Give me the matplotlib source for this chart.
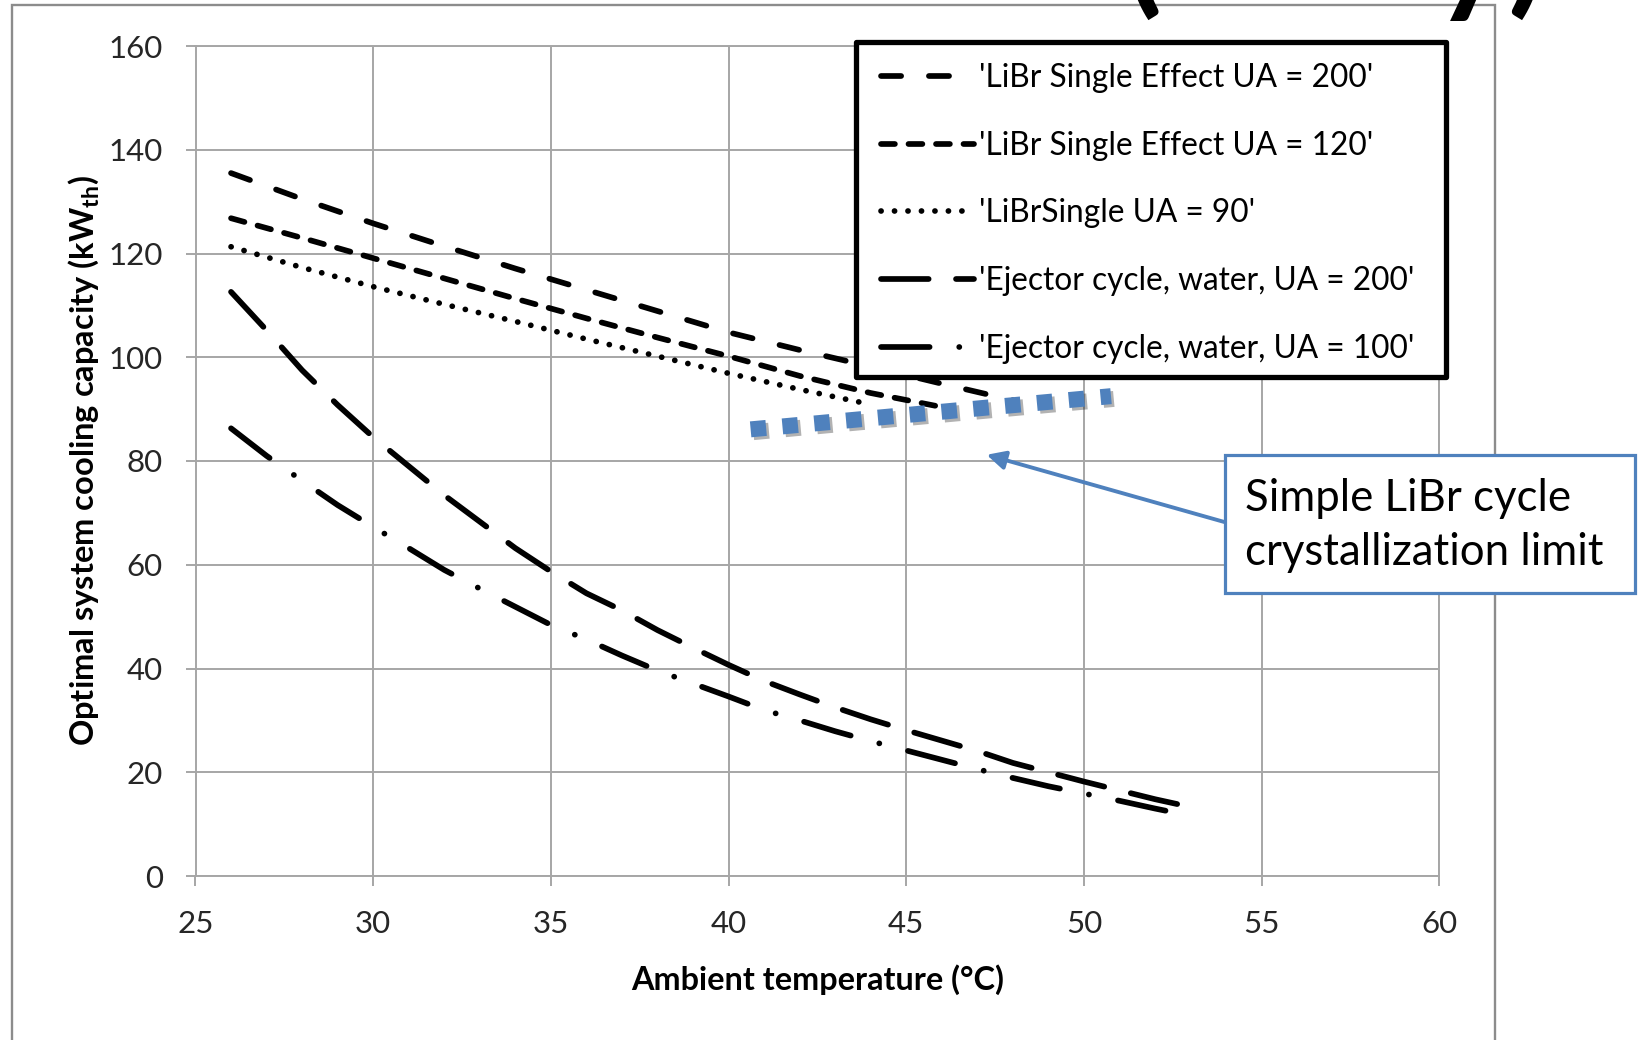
import matplotlib
matplotlib.use("Agg")
import matplotlib.pyplot as plt
import matplotlib.patheffects as pe
from matplotlib.patches import Rectangle

plt.rcParams['font.family'] = ['Lato', 'DejaVu Sans']
plt.rcParams['mathtext.fontset'] = 'custom'
plt.rcParams['mathtext.rm'] = 'Lato:bold'
plt.rcParams['lines.scale_dashes'] = False

# data
libr200_x = [26, 28, 30, 32, 34, 36, 38, 40, 42, 44, 46, 48]
libr200_y = [135.5, 130.5, 125.8, 121.4, 117.1, 113.0, 108.9, 104.8, 101.4, 98.2, 94.9, 91.7]

libr120_x = [26, 28, 30, 32, 34, 36, 38, 40, 42, 44, 46]
libr120_y = [126.8, 123.0, 119.1, 115.2, 111.3, 107.5, 103.8, 100.2, 96.4, 93.1, 90.4]

libr90_x = [26, 28, 30, 32, 34, 36, 38, 40, 42, 44]
libr90_y = [121.3, 117.3, 113.6, 110.2, 106.9, 103.5, 100.2, 96.9, 93.8, 90.9]

ej200_x = list(range(26, 54))
ej200_y = [112.6, 105.2, 97.5, 90.8, 84.6, 79.0, 73.4, 68.3, 63.2, 58.7,
           54.5, 51.2, 47.4, 44.0, 40.7, 37.6, 35.0, 32.5, 30.2, 28.1,
           26.1, 24.1, 21.8, 20.0, 18.2, 16.5, 14.8, 13.3]

ej100_x = list(range(26, 54))
ej100_y = [86.3, 81.0, 76.2, 71.5, 67.3, 63.2, 59.0, 55.4, 51.9, 48.4,
           45.6, 42.5, 39.6, 37.1, 34.6, 32.0, 30.0, 27.9, 26.0, 24.2,
           22.4, 20.6, 18.9, 17.3, 15.9, 14.5, 13.0, 11.6]

labels = ["'LiBr Single Effect UA = 200'", "'LiBr Single Effect UA = 120'",
          "'LiBrSingle UA = 90'", "'Ejector cycle, water, UA = 200'",
          "'Ejector cycle, water, UA = 100'"]

# hand drawn crystallization limit and its callout
limit_x = [40.62, 50.76]
limit_y = [86.1, 92.5]
arrow_head = (47.26, 81.2)
arrow_tail = (53.97, 68.2)

x_ticks = [25, 30, 35, 40, 45, 50, 55, 60]
y_ticks = [0, 20, 40, 60, 80, 100, 120, 140, 160]

W, H = 1639, 1040
fig = plt.figure(figsize=(W / 100, H / 100), dpi=100)
ax = fig.add_axes([195.5 / W, 1 - 876 / H, (1439.4 - 195.5) / W, (876 - 46) / H])

grid_c = '#a6a6a6'
lw = 4.1
styles = [
    (libr200_x, libr200_y, (0, (14.5, 20.0))),
    (libr120_x, libr120_y, (0, (10.0, 9.8))),
    (libr90_x, libr90_y, (0, (0.1, 9.6))),
    (ej200_x, ej200_y, (0, (34.3, 19.7))),
    (ej100_x, ej100_y, (0, (35.0, 21.3, 0.1, 21.3))),
]
for (xs, ys, ls), lab in zip(styles, labels):
    ax.plot(xs, ys, color='black', lw=lw, linestyle=ls, label=lab,
            dash_capstyle='round', solid_capstyle='round', zorder=3)

ax.plot(limit_x, limit_y, color='#4F81BD', lw=11.5, linestyle=(0, (11.2, 11.8)),
        dash_capstyle='butt', zorder=4,
        path_effects=[pe.SimpleLineShadow(offset=(2, -2), shadow_color='k', alpha=0.3),
                      pe.Normal()])

ax.annotate('', xy=arrow_head, xytext=arrow_tail, annotation_clip=False,
            arrowprops=dict(arrowstyle='-|>', color='#4F81BD', lw=2.8,
                            mutation_scale=28, shrinkA=0, shrinkB=0), zorder=5)

ax.set_xlim(25, 60)
ax.set_ylim(0, 160)
ax.set_xticks(x_ticks)
ax.set_yticks(y_ticks)
ax.grid(True, color=grid_c, lw=1.4)
ax.set_axisbelow(True)
for s in ax.spines.values():
    s.set_color(grid_c)
    s.set_linewidth(1.4)
ax.tick_params(direction='out', length=7.5, width=1.4, color=grid_c,
               labelsize=22.5, labelcolor='#262626')
ax.tick_params(axis='y', pad=16)
ax.tick_params(axis='x', pad=17)

ax.set_xlabel('Ambient temperature (°C)', fontsize=23.3, fontweight='bold', labelpad=19)
ax.set_ylabel(r'Optimal system cooling capacity (kW$_{\mathrm{th}}$)', fontsize=23.5,
              fontweight='bold', labelpad=5)

# legend box drawn separately so the entries can sit where they do in the source
fig.add_artist(Rectangle((856 / W, 1 - 377 / H), (1446 - 856) / W, (377 - 42) / H,
                         transform=fig.transFigure, facecolor='white',
                         edgecolor='black', lw=3.8, joinstyle='round', zorder=5))
leg = ax.legend(loc='upper left', bbox_to_anchor=(881 / W, 1 - 63 / H),
                bbox_transform=fig.transFigure, borderaxespad=0, fontsize=22.8,
                handlelength=2.95, handletextpad=0.13, labelspacing=1.19,
                borderpad=0, frameon=False)
fig.legends.append(leg)
ax.legend_ = None
leg.set_zorder(6)

# chart area border
fig.add_artist(Rectangle((12 / W, -0.05), (1495 - 12) / W, 1.05 - 5 / H,
                         transform=fig.transFigure, fill=False,
                         edgecolor='#8c8c8c', lw=1.7, zorder=0))

# callout box
fig.add_artist(Rectangle((1225 / W, 1 - 593 / H), (1635 - 1225) / W, (593 - 455) / H,
                         transform=fig.transFigure, facecolor='white',
                         edgecolor='#4F81BD', lw=2.3, zorder=7))
fig.text(1245 / W, 1 - 511 / H, 'Simple LiBr cycle', fontsize=31.5,
         va='baseline', ha='left', zorder=8)
fig.text(1245 / W, 1 - 565 / H, 'crystallization limit', fontsize=31.5,
         va='baseline', ha='left', zorder=8)

# slide title, only its descenders reach into the picture
fig.text(1547 / W, 1 + 2 / H, '(study)', fontsize=101, fontweight='bold',
         ha='right', va='baseline', zorder=9)

fig.savefig('out.png', dpi=100)
